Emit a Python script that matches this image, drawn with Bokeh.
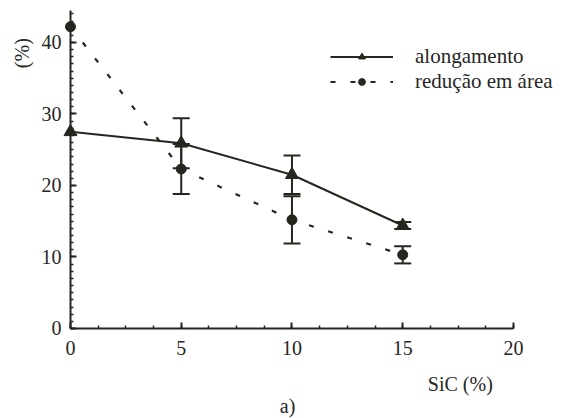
import math
from bokeh.plotting import figure
from bokeh.models import (ColumnDataSource, Whisker, TeeHead, Label, Legend, LegendItem,
                          SingleIntervalTicker, Range1d)
from bokeh.embed import file_html
from bokeh.resources import INLINE

# ---- data ----
sic = [0, 5, 10, 15]
alongamento = [27.5, 25.9, 21.5, 14.4]
alongamento_err = [0.0, 3.5, 2.7, 0.5]
reducao = [42.2, 22.3, 15.2, 10.3]
reducao_err = [0.0, 3.5, 3.3, 1.2]

x_ticks_interval = 5
y_ticks_interval = 10

INK = "#26261f"
FONT = "Liberation Serif"

W, H = 565, 418
# frame covers the whole figure; axes are placed at x=0 / y=0
p = figure(width=W, height=H, output_backend="svg", toolbar_location=None,
           x_range=Range1d(-3.16, 22.35), y_range=Range1d(-12.59, 45.87),
           background_fill_color="white", border_fill_color="white")
p.min_border_left = 0
p.min_border_right = 0
p.min_border_top = 0
p.min_border_bottom = 0
p.outline_line_color = None
p.grid.visible = False

# axes
p.xaxis.ticker = SingleIntervalTicker(interval=x_ticks_interval, num_minor_ticks=4)
p.yaxis.ticker = SingleIntervalTicker(interval=y_ticks_interval, num_minor_ticks=10)
p.xaxis.bounds = (0, 20)
p.yaxis.bounds = (0, 44.5)
p.yaxis.fixed_location = 0
p.xaxis.fixed_location = 0
for ax in (p.xaxis, p.yaxis):
    ax.axis_line_color = INK
    ax.axis_line_width = 2
    ax.major_tick_in = 6
    ax.major_tick_out = 0
    ax.minor_tick_in = 3
    ax.minor_tick_out = 0
    ax.major_tick_line_color = INK
    ax.minor_tick_line_color = INK
    ax.major_tick_line_width = 2
    ax.minor_tick_line_width = 1.5
    ax.major_label_text_font = FONT
    ax.major_label_text_font_size = "20px"
    ax.major_label_text_color = INK
p.xaxis.major_label_standoff = 13
p.yaxis.major_label_standoff = 9

src_a = ColumnDataSource(dict(x=sic, y=alongamento))
src_r = ColumnDataSource(dict(x=sic, y=reducao))

la = p.line("x", "y", source=src_a, line_color=INK, line_width=2)
sa = p.scatter("x", "y", source=src_a, marker="triangle", size=13,
               fill_color=INK, line_color=INK)
lr = p.line("x", "y", source=src_r, line_color=INK, line_width=2.2, line_dash="5 15")
sr = p.scatter("x", "y", source=src_r, marker="circle", size=10,
               fill_color=INK, line_color=INK)

# error bars
def err_source(xs, ys, es):
    idx = [i for i, e in enumerate(es) if e > 0]
    return ColumnDataSource(dict(
        x=[xs[i] for i in idx],
        upper=[ys[i] + es[i] for i in idx],
        lower=[ys[i] - es[i] for i in idx]))

for xs, ys, es in ((sic, alongamento, alongamento_err), (sic, reducao, reducao_err)):
    w = Whisker(source=err_source(xs, ys, es), base="x", upper="upper", lower="lower",
                dimension="height", line_color=INK, line_width=2,
                upper_head=TeeHead(size=17, line_color=INK, line_width=2),
                lower_head=TeeHead(size=17, line_color=INK, line_width=2))
    p.add_layout(w)

# legend
legend = Legend(items=[LegendItem(label="alongamento", renderers=[la, sa]),
                       LegendItem(label="redução em área", renderers=[lr, sr])],
                location=(330, 324), orientation="vertical",
                glyph_width=63, glyph_height=17, label_height=17, spacing=0,
                label_standoff=22, padding=0, margin=0,
                border_line_color=None, background_fill_alpha=0,
                label_text_font=FONT, label_text_font_size="21px",
                label_text_color=INK)
p.add_layout(legend)

# texts
p.add_layout(Label(x=-2.17, y=38.5, text="(%)", angle=math.pi / 2,
                   text_font=FONT, text_font_size="20px", text_color=INK,
                   text_align="center", text_baseline="middle"))
p.add_layout(Label(x=17.6, y=-7.8, text="SiC (%)",
                   text_font=FONT, text_font_size="20px", text_color=INK,
                   text_align="center", text_baseline="middle"))
p.add_layout(Label(x=9.8, y=-10.8, text="a)",
                   text_font=FONT, text_font_size="20px", text_color=INK,
                   text_align="center", text_baseline="middle"))

open("out.html", "w").write(file_html(p, INLINE))
